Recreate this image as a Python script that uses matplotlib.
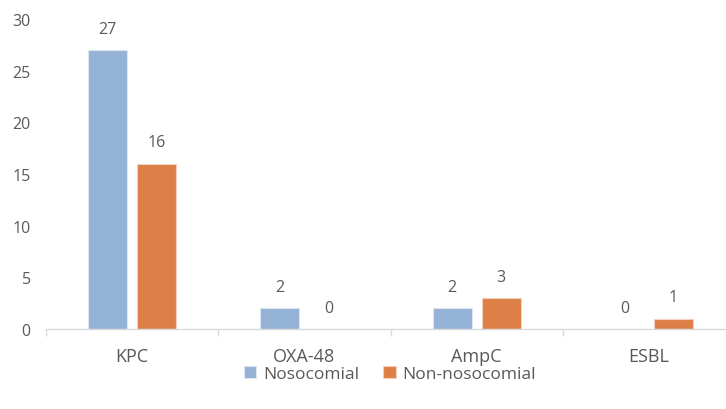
import matplotlib
matplotlib.use("Agg")
import matplotlib.pyplot as plt
import numpy as np
from matplotlib.ticker import FixedLocator, NullFormatter

categories = ["KPC", "OXA-48", "AmpC", "ESBL"]
nosocomial = [27, 2, 2, 0]
non_nosocomial = [16, 0, 3, 1]
series_names = ["Nosocomial", "Non-nosocomial"]
y_ticks = [0, 5, 10, 15, 20, 25, 30]

blue = "#95B3D7"
orange = "#DD8047"
text_gray = "#595959"
axis_gray = "#D9D9D9"

plt.rcParams["font.family"] = ["Open Sans", "DejaVu Sans"]

W, H = 726, 410
fig = plt.figure(figsize=(W / 100, H / 100), dpi=100)
# axes box in pixel units: left 46, right 735 (runs off the right edge), y0 at 330, 30 at 20
left, right, bottom, top = 46, 735, 330, 20
ax = fig.add_axes([left / W, 1 - bottom / H, (right - left) / W, (bottom - top) / H])

x = np.arange(len(categories))
width = 0.227
offset = 0.142

b1 = ax.bar(x - offset, nosocomial, width, color=blue, edgecolor="#DCE6F1",
            linewidth=0.8, label=series_names[0])
b2 = ax.bar(x + offset, non_nosocomial, width, color=orange, edgecolor="#F4D0BC",
            linewidth=0.8, label=series_names[1])

for bars, vals in ((b1, nosocomial), (b2, non_nosocomial)):
    for rect, v in zip(bars, vals):
        if v == 0:
            rect.set_linewidth(0)
        ax.annotate(str(v), (rect.get_x() + rect.get_width() / 2, v),
                    xytext=(0, 9.5), textcoords="offset points",
                    ha="center", va="bottom", fontsize=11.5, color=text_gray)

ax.set_xlim(-0.5, len(categories) - 0.5)
ax.set_ylim(0, 30)
ax.set_yticks(y_ticks)
ax.tick_params(axis="y", length=0, pad=11, labelsize=11.5, labelcolor=text_gray)

ax.set_xticks(x)
ax.set_xticklabels(categories)
ax.tick_params(axis="x", which="major", length=0, pad=13, labelsize=13, labelcolor=text_gray)
ax.xaxis.set_minor_locator(FixedLocator(np.arange(-0.5, len(categories), 1.0)))
ax.xaxis.set_minor_formatter(NullFormatter())
ax.tick_params(axis="x", which="minor", length=5, width=1, color=axis_gray, direction="out")

for s in ("top", "right", "left"):
    ax.spines[s].set_visible(False)
ax.spines["bottom"].set_color(axis_gray)
ax.spines["bottom"].set_linewidth(1)

fig.legend(handles=[b1, b2], labels=series_names, loc="center",
           bbox_to_anchor=(390 / W, 1 - 375 / H), ncol=2, frameon=False,
           fontsize=12.5, labelcolor=text_gray, handlelength=0.7, handleheight=0.7,
           handletextpad=0.4, columnspacing=1.4)

fig.savefig("out.png", dpi=100)
